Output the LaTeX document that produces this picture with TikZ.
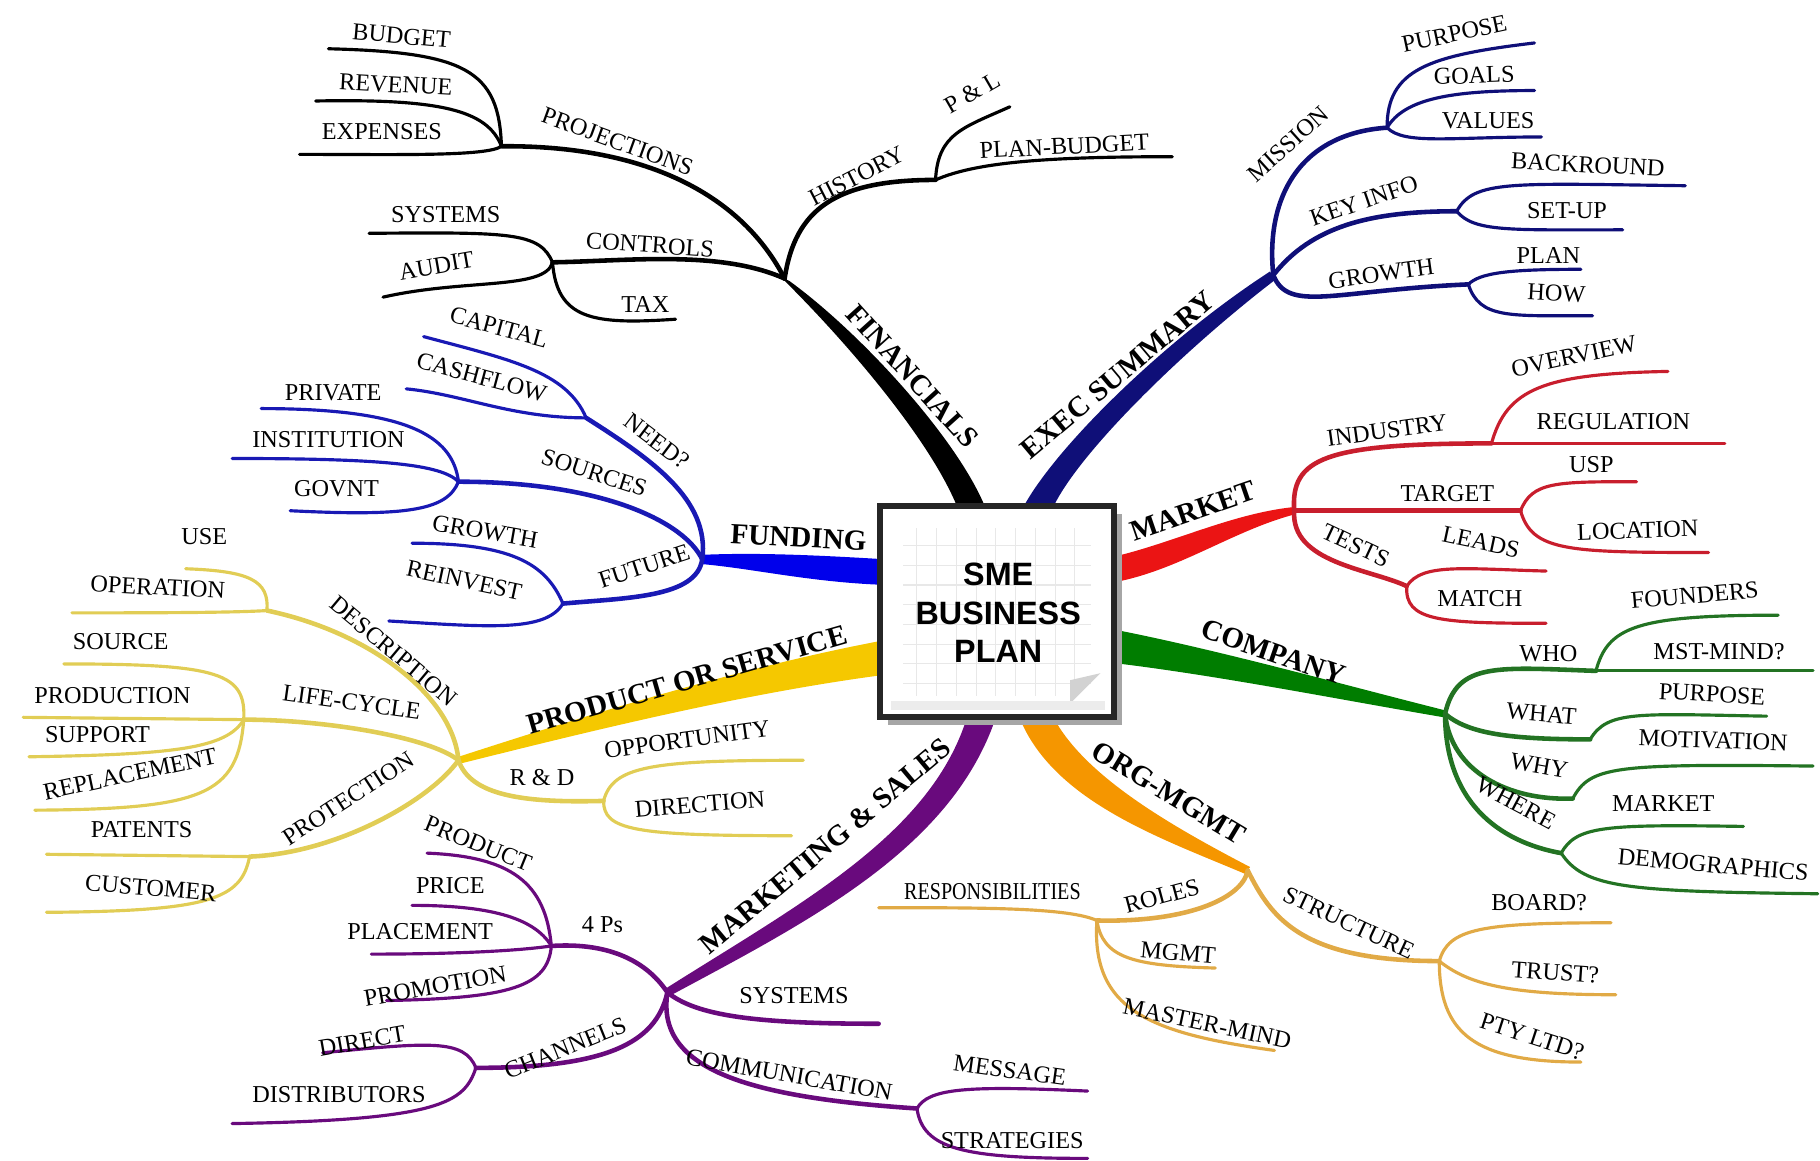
\documentclass[tikz,border=0pt]{standalone}
\usepackage{fontspec}
\setmainfont{Liberation Serif}
\setsansfont{Liberation Sans}

\definecolor{finc}{RGB}{0,0,0}
\definecolor{execc}{RGB}{15,15,120}
\definecolor{mktc}{RGB}{235,20,20}
\definecolor{mktb}{RGB}{200,30,45}
\definecolor{compc}{RGB}{0,125,0}
\definecolor{compb}{RGB}{35,115,35}
\definecolor{orgc}{RGB}{245,150,0}
\definecolor{orgb}{RGB}{225,170,70}
\definecolor{mksc}{RGB}{105,10,125}
\definecolor{prodc}{RGB}{245,200,0}
\definecolor{prodb}{RGB}{225,205,85}
\definecolor{fundc}{RGB}{0,0,235}
\definecolor{fundb}{RGB}{25,25,180}

\tikzset{
  lbl/.style={font=\fontsize{6.9}{7.5}\selectfont, inner sep=0pt, text=black},
  mlbl/.style={font=\bfseries\fontsize{8.3}{9}\selectfont, inner sep=0pt, text=black},
  br/.style={line width=1.3pt, line cap=round},
  leaf/.style={line width=0.9pt, line cap=round}
}

\begin{document}
\begin{tikzpicture}[x=0.011607cm, y=-0.011607cm]
\useasboundingbox (0,0) rectangle (1568,1000);

% ---------------- FINANCIALS
\begin{scope}[finc]
\coordinate (fin) at (676,240);
\coordinate (hist) at (806,155);
\coordinate (pl) at (870,92);
\coordinate (planb) at (1010,135);
\coordinate (ctrl) at (476,226);
\coordinate (sys) at (318,201);
\coordinate (audit) at (330,256);
\coordinate (tax) at (582,275);
\coordinate (proj) at (432,126);
\coordinate (budg) at (283,42);
\coordinate (rev) at (272,87);
\coordinate (expn) at (258,133);

\fill (826,440) .. controls (803,380) and (728,293) .. (672,238) -- (680,242) .. controls (742,287) and (827,380) .. (850,440) -- cycle;
\draw[br] (fin) .. controls (685,180) and (720,155) .. (hist);
\draw[leaf] (hist) .. controls (808,115) and (830,110) .. (pl);
\draw[leaf] (hist) .. controls (840,140) and (900,135) .. (planb);
\draw[br] (fin) .. controls (620,215) and (540,225) .. (ctrl);
\draw[leaf] (ctrl) .. controls (465,200) and (440,200) .. (sys);
\draw[leaf] (ctrl) .. controls (470,250) and (400,240) .. (audit);
\draw[leaf] (ctrl) .. controls (480,275) and (510,280) .. (tax);
\draw[br] (fin) .. controls (640,170) and (560,125) .. (proj);
\draw[leaf] (proj) .. controls (430,60) and (400,45) .. (budg);
\draw[leaf] (proj) .. controls (420,95) and (380,85) .. (rev);
\draw[leaf] (proj) .. controls (420,135) and (340,133) .. (expn);
\end{scope}

\node[mlbl, rotate=-48] (t-fin) at (786,324) {FINANCIALS};
\node[lbl, rotate=27] (t-hist) at (738,152) {HISTORY};
\node[lbl, rotate=30] (t-pl) at (838,80) {P \& L};
\node[lbl, rotate=3] (t-planb) at (917,126) {PLAN-BUDGET};
\node[lbl, rotate=-4] (t-ctrl) at (560,211) {CONTROLS};
\node[lbl] (t-sys) at (384,185) {SYSTEMS};
\node[lbl, rotate=10] (t-audit) at (376,229) {AUDIT};
\node[lbl] (t-tax) at (556,262) {TAX};
\node[lbl, rotate=-20] (t-proj) at (532,122) {PROJECTIONS};
\node[lbl, rotate=-5] (t-budg) at (346,31) {BUDGET};
\node[lbl, rotate=-3] (t-rev) at (341,73) {REVENUE};
\node[lbl] (t-expn) at (329,113) {EXPENSES};

% ---------------- EXEC SUMMARY
\begin{scope}[execc]
\coordinate (exs) at (1097,237);
\coordinate (miss) at (1195,110);
\coordinate (purp) at (1322,37);
\coordinate (goals) at (1322,78);
\coordinate (vals) at (1328,118);
\coordinate (key) at (1255,182);
\coordinate (back) at (1452,160);
\coordinate (setup) at (1398,198);
\coordinate (grow) at (1265,245);
\coordinate (plan) at (1362,232);
\coordinate (how) at (1372,272);

\fill (880,440) .. controls (905,390) and (1000,295) .. (1094,234) -- (1100,240) .. controls (1015,305) and (925,395) .. (906,440) -- cycle;
\draw[br] (exs) .. controls (1090,170) and (1120,115) .. (miss);
\draw[leaf] (miss) .. controls (1195,60) and (1230,48) .. (purp);
\draw[leaf] (miss) .. controls (1210,85) and (1250,78) .. (goals);
\draw[leaf] (miss) .. controls (1210,125) and (1250,118) .. (vals);
\draw[br] (exs) .. controls (1130,195) and (1180,182) .. (key);
\draw[leaf] (key) .. controls (1270,155) and (1300,158) .. (back);
\draw[leaf] (key) .. controls (1270,200) and (1300,198) .. (setup);
\draw[br] (exs) .. controls (1110,270) and (1150,250) .. (grow);
\draw[leaf] (grow) .. controls (1275,235) and (1300,232) .. (plan);
\draw[leaf] (grow) .. controls (1275,275) and (1300,272) .. (how);
\end{scope}

\node[mlbl, rotate=40] (t-exs) at (963,323) {EXEC SUMMARY};
\node[lbl, rotate=42] (t-miss) at (1110,124) {MISSION};
\node[lbl, rotate=12] (t-purp) at (1253,29) {PURPOSE};
\node[lbl, rotate=2] (t-goals) at (1270,65) {GOALS};
\node[lbl] (t-vals) at (1282,104) {VALUES};
\node[lbl, rotate=19] (t-key) at (1175,173) {KEY INFO};
\node[lbl, rotate=-3] (t-back) at (1368,142) {BACKROUND};
\node[lbl] (t-setup) at (1350,181) {SET-UP};
\node[lbl, rotate=8] (t-grow) at (1190,236) {GROWTH};
\node[lbl] (t-plan) at (1334,220) {PLAN};
\node[lbl, rotate=-3] (t-how) at (1341,253) {HOW};

% ---------------- MARKET
\fill[mktc] (958,480) .. controls (1010,468) and (1060,443) .. (1113,437) -- (1116,443) .. controls (1062,457) and (1015,492) .. (958,502) -- cycle;
\begin{scope}[mktb]
\coordinate (mkt) at (1115,440);
\coordinate (ind) at (1285,382);
\coordinate (over) at (1437,320);
\coordinate (reg) at (1486,382);
\coordinate (targ) at (1310,440);
\coordinate (usp) at (1410,415);
\coordinate (loc) at (1472,476);
\coordinate (tests) at (1212,505);
\coordinate (leads) at (1332,492);
\coordinate (match) at (1332,537);

\draw[br] (mkt) .. controls (1112,395) and (1140,382) .. (ind);
\draw[leaf] (ind) .. controls (1298,335) and (1330,322) .. (over);
\draw[leaf] (ind) -- (reg);
\draw[br] (mkt) -- (targ);
\draw[leaf] (targ) .. controls (1320,415) and (1340,415) .. (usp);
\draw[leaf] (targ) .. controls (1320,475) and (1350,476) .. (loc);
\draw[br] (mkt) .. controls (1112,485) and (1180,490) .. (tests);
\draw[leaf] (tests) .. controls (1225,485) and (1260,490) .. (leads);
\draw[leaf] (tests) .. controls (1210,535) and (1240,537) .. (match);
\end{scope}

\node[mlbl, rotate=19] (t-mkt) at (1028,440) {MARKET};
\node[lbl, rotate=8] (t-ind) at (1195,371) {INDUSTRY};
\node[lbl, rotate=12] (t-over) at (1356,307) {OVERVIEW};
\node[lbl] (t-reg) at (1390,363) {REGULATION};
\node[lbl] (t-targ) at (1247,425) {TARGET};
\node[lbl] (t-usp) at (1371,400) {USP};
\node[lbl, rotate=2] (t-loc) at (1411,457) {LOCATION};
\node[lbl, rotate=-25] (t-tests) at (1168,470) {TESTS};
\node[lbl, rotate=-12] (t-leads) at (1276,467) {LEADS};
\node[lbl] (t-match) at (1275,516) {MATCH};

% ---------------- COMPANY
\fill[compc] (958,542) .. controls (1050,560) and (1150,588) .. (1245,612) -- (1244,618) .. controls (1150,602) and (1050,582) .. (958,571) -- cycle;
\begin{scope}[compb]
\coordinate (comp) at (1245,615);
\coordinate (who) at (1375,578);
\coordinate (found) at (1532,530);
\coordinate (mst) at (1562,578);
\coordinate (what) at (1370,637);
\coordinate (purp2) at (1522,617);
\coordinate (why) at (1355,688);
\coordinate (motiv) at (1562,660);
\coordinate (where) at (1345,735);
\coordinate (mark2) at (1502,712);
\coordinate (demo) at (1566,770);

\draw[br] (comp) .. controls (1255,570) and (1290,575) .. (who);
\draw[leaf] (who) .. controls (1385,540) and (1410,530) .. (found);
\draw[leaf] (who) -- (mst);
\draw[br] (comp) .. controls (1265,632) and (1300,637) .. (what);
\draw[leaf] (what) .. controls (1385,612) and (1410,615) .. (purp2);
\draw[br] (comp) .. controls (1250,665) and (1300,690) .. (why);
\draw[leaf] (why) .. controls (1370,660) and (1390,658) .. (motiv);
\draw[br] (comp) .. controls (1245,690) and (1290,725) .. (where);
\draw[leaf] (where) .. controls (1358,712) and (1380,710) .. (mark2);
\draw[leaf] (where) .. controls (1365,765) and (1400,768) .. (demo);
\end{scope}

\node[mlbl, rotate=-19] (t-comp) at (1097,562) {COMPANY};
\node[lbl] (t-who) at (1334,563) {WHO};
\node[lbl, rotate=5] (t-found) at (1460,513) {FOUNDERS};
\node[lbl] (t-mst) at (1481,561) {MST-MIND?};
\node[lbl, rotate=-5] (t-what) at (1328,615) {WHAT};
\node[lbl, rotate=-3] (t-purp2) at (1475,598) {PURPOSE};
\node[lbl, rotate=-10] (t-why) at (1326,660) {WHY};
\node[lbl, rotate=-2] (t-motiv) at (1476,638) {MOTIVATION};
\node[lbl, rotate=-28] (t-where) at (1306,692) {WHERE};
\node[lbl] (t-mark2) at (1433,692) {MARKET};
\node[lbl, rotate=-5] (t-demo) at (1476,745) {DEMOGRAPHICS};

% ---------------- ORG-MGMT
\fill[orgc] (877,615) .. controls (905,690) and (1000,722) .. (1073,753) -- (1077,747) .. controls (1010,712) and (932,668) .. (906,615) -- cycle;
\begin{scope}[orgb]
\coordinate (org) at (1075,750);
\coordinate (roles) at (945,793);
\coordinate (resp) at (757,782);
\coordinate (mgmt) at (1047,834);
\coordinate (mastm) at (1098,905);
\coordinate (struc) at (1240,828);
\coordinate (board) at (1388,795);
\coordinate (trust) at (1392,857);
\coordinate (pty) at (1362,915);

\draw[br] (org) .. controls (1070,775) and (1020,795) .. (roles);
\draw[leaf] (roles) .. controls (920,782) and (850,782) .. (resp);
\draw[leaf] (roles) .. controls (950,825) and (975,832) .. (mgmt);
\draw[leaf] (roles) .. controls (940,870) and (990,890) .. (mastm);
\draw[br] (org) .. controls (1095,790) and (1120,828) .. (struc);
\draw[leaf] (struc) .. controls (1248,800) and (1275,795) .. (board);
\draw[leaf] (struc) .. controls (1265,848) and (1300,857) .. (trust);
\draw[leaf] (struc) .. controls (1240,890) and (1270,915) .. (pty);
\end{scope}

\node[mlbl, rotate=-31] (t-org) at (1007,683) {ORG-MGMT};
\node[lbl, rotate=15] (t-roles) at (1001,772) {ROLES};
\node[lbl, xscale=.83] (t-resp) at (855,768) {RESPONSIBILITIES};
\node[lbl, rotate=-5] (t-mgmt) at (1015,821) {MGMT};
\node[lbl, rotate=-12] (t-mastm) at (1040,882) {MASTER-MIND};
\node[lbl, rotate=-25] (t-struc) at (1162,795) {STRUCTURE};
\node[lbl] (t-board) at (1326,778) {BOARD?};
\node[lbl, rotate=-4] (t-trust) at (1340,838) {TRUST?};
\node[lbl, rotate=-18] (t-pty) at (1320,893) {PTY LTD?};

% ---------------- MARKETING & SALES
\begin{scope}[mksc]
\coordinate (mks) at (575,855);
\coordinate (fourp) at (475,815);
\coordinate (prodt) at (368,735);
\coordinate (price) at (355,780);
\coordinate (place) at (320,822);
\coordinate (promo) at (333,862);
\coordinate (msys) at (757,882);
\coordinate (chan) at (410,920);
\coordinate (direct) at (278,907);
\coordinate (distr) at (200,968);
\coordinate (comm) at (790,955);
\coordinate (mess) at (937,940);
\coordinate (strat) at (937,998);

\fill (859,615) .. controls (822,730) and (700,792) .. (577,858) -- (573,852) .. controls (690,778) and (804,718) .. (834,615) -- cycle;
\draw[br] (mks) .. controls (555,825) and (520,812) .. (fourp);
\draw[leaf] (fourp) .. controls (470,760) and (440,738) .. (prodt);
\draw[leaf] (fourp) .. controls (460,790) and (420,780) .. (price);
\draw[leaf] (fourp) .. controls (440,820) and (380,822) .. (place);
\draw[leaf] (fourp) .. controls (472,850) and (440,860) .. (promo);
\draw[br] (mks) .. controls (600,875) and (650,882) .. (msys);
\draw[br] (mks) .. controls (565,900) and (520,920) .. (chan);
\draw[leaf] (chan) .. controls (400,895) and (370,898) .. (direct);
\draw[leaf] (chan) .. controls (400,950) and (380,965) .. (distr);
\draw[br] (mks) .. controls (565,920) and (640,945) .. (comm);
\draw[leaf] (comm) .. controls (800,938) and (830,935) .. (mess);
\draw[leaf] (comm) .. controls (795,990) and (830,998) .. (strat);
\end{scope}

\node[mlbl, rotate=40] (t-mks) at (711,729) {MARKETING \& SALES};
\node[lbl] (t-fourp) at (519,797) {4 Ps};
\node[lbl, rotate=-22] (t-prodt) at (412,727) {PRODUCT};
\node[lbl] (t-price) at (388,763) {PRICE};
\node[lbl] (t-place) at (362,803) {PLACEMENT};
\node[lbl, rotate=10] (t-promo) at (375,850) {PROMOTION};
\node[lbl] (t-msys) at (684,858) {SYSTEMS};
\node[lbl, rotate=22] (t-chan) at (487,903) {CHANNELS};
\node[lbl, rotate=10] (t-direct) at (312,897) {DIRECT};
\node[lbl] (t-distr) at (292,943) {DISTRIBUTORS};
\node[lbl, rotate=-10] (t-comm) at (680,926) {COMMUNICATION};
\node[lbl, rotate=-8] (t-mess) at (870,922) {MESSAGE};
\node[lbl] (t-strat) at (872,983) {STRATEGIES};

% ---------------- PRODUCT OR SERVICE
\fill[prodc] (765,551) .. controls (640,574) and (500,618) .. (395,652) -- (396,658) .. controls (500,632) and (640,597) .. (765,581) -- cycle;
\begin{scope}[prodb]
\coordinate (prod) at (395,655);
\coordinate (desc) at (230,526);
\coordinate (use) at (160,490);
\coordinate (oper) at (62,528);
\coordinate (life) at (210,620);
\coordinate (src) at (55,572);
\coordinate (prodn) at (20,618);
\coordinate (supp) at (25,652);
\coordinate (repl) at (30,698);
\coordinate (prot) at (215,738);
\coordinate (pat) at (40,736);
\coordinate (cust) at (40,786);
\coordinate (rnd) at (520,690);
\coordinate (opp) at (692,655);
\coordinate (dir) at (682,720);

\draw[br] (prod) .. controls (390,600) and (320,545) .. (desc);
\draw[leaf] (desc) .. controls (232,500) and (215,492) .. (use);
\draw[leaf] (desc) .. controls (200,528) and (120,528) .. (oper);
\draw[br] (prod) .. controls (370,635) and (280,620) .. (life);
\draw[leaf] (life) .. controls (212,580) and (190,572) .. (src);
\draw[leaf] (life) -- (prodn);
\draw[leaf] (life) .. controls (195,645) and (150,650) .. (supp);
\draw[leaf] (life) .. controls (205,685) and (175,697) .. (repl);
\draw[br] (prod) .. controls (370,690) and (290,735) .. (prot);
\draw[leaf] (prot) -- (pat);
\draw[leaf] (prot) .. controls (208,775) and (180,785) .. (cust);
\draw[br] (prod) .. controls (405,685) and (450,692) .. (rnd);
\draw[leaf] (rnd) .. controls (528,660) and (560,655) .. (opp);
\draw[leaf] (rnd) .. controls (520,715) and (545,720) .. (dir);
\end{scope}

\node[mlbl, rotate=16] (t-prod) at (592,586) {PRODUCT OR SERVICE};
\node[lbl, rotate=-40] (t-desc) at (339,561) {DESCRIPTION};
\node[lbl] (t-use) at (176,462) {USE};
\node[lbl, rotate=-3] (t-oper) at (136,506) {OPERATION};
\node[lbl, rotate=-8] (t-life) at (303,605) {LIFE-CYCLE};
\node[lbl] (t-src) at (104,553) {SOURCE};
\node[lbl] (t-prodn) at (97,599) {PRODUCTION};
\node[lbl] (t-supp) at (84,633) {SUPPORT};
\node[lbl, rotate=12] (t-repl) at (112,667) {REPLACEMENT};
\node[lbl, rotate=33] (t-prot) at (300,688) {PROTECTION};
\node[lbl] (t-pat) at (122,715) {PATENTS};
\node[lbl, rotate=-5] (t-cust) at (130,765) {CUSTOMER};
\node[lbl] (t-rnd) at (467,670) {R \& D};
\node[lbl, rotate=8] (t-opp) at (592,637) {OPPORTUNITY};
\node[lbl, rotate=5] (t-dir) at (603,693) {DIRECTION};

% ---------------- FUNDING
\fill[fundc] (765,482) .. controls (700,478) and (650,476) .. (605,478) -- (605,486) .. controls (650,490) and (700,502) .. (765,504) -- cycle;
\begin{scope}[fundb]
\coordinate (fund) at (605,482);
\coordinate (need) at (505,360);
\coordinate (capt) at (365,290);
\coordinate (cash) at (350,335);
\coordinate (srcs) at (395,415);
\coordinate (priv) at (225,352);
\coordinate (inst) at (200,395);
\coordinate (govt) at (250,440);
\coordinate (fut) at (485,520);
\coordinate (grow2) at (355,468);
\coordinate (reinv) at (335,535);

\draw[br] (fund) .. controls (612,430) and (560,395) .. (need);
\draw[leaf] (need) .. controls (488,320) and (440,310) .. (capt);
\draw[leaf] (need) .. controls (440,360) and (400,340) .. (cash);
\draw[br] (fund) .. controls (590,450) and (520,415) .. (srcs);
\draw[leaf] (srcs) .. controls (390,375) and (350,352) .. (priv);
\draw[leaf] (srcs) .. controls (380,400) and (330,395) .. (inst);
\draw[leaf] (srcs) .. controls (385,440) and (350,445) .. (govt);
\draw[br] (fund) .. controls (600,515) and (540,515) .. (fut);
\draw[leaf] (fut) .. controls (470,485) and (440,468) .. (grow2);
\draw[leaf] (fut) .. controls (470,545) and (420,540) .. (reinv);
\end{scope}

\node[mlbl, rotate=-3] (t-fund) at (688,463) {FUNDING};
\node[lbl, rotate=-37] (t-need) at (566,380) {NEED?};
\node[lbl, rotate=-15] (t-capt) at (430,282) {CAPITAL};
\node[lbl, rotate=-15] (t-cash) at (415,325) {CASHFLOW};
\node[lbl, rotate=-18] (t-srcs) at (512,407) {SOURCES};
\node[lbl] (t-priv) at (287,338) {PRIVATE};
\node[lbl] (t-inst) at (283,379) {INSTITUTION};
\node[lbl] (t-govt) at (290,421) {GOVNT};
\node[lbl, rotate=18] (t-fut) at (555,488) {FUTURE};
\node[lbl, rotate=-10] (t-grow2) at (418,458) {GROWTH};
\node[lbl, rotate=-12] (t-reinv) at (400,500) {REINVEST};

% ---------------- central box
\fill[gray!70] (765,443) rectangle (967,625);
\draw[gray!30!black, line width=1.8pt, fill=white] (758,436) rectangle (960,618);
\foreach \gx in {790,807,...,935} \draw[gray!18, line width=0.3pt] (\gx,455) -- (\gx,600);
\foreach \gy in {470,487,...,600} \draw[gray!18, line width=0.3pt] (778,\gy) -- (940,\gy);
\fill[gray!35] (922,606) -- (948,580) -- (922,586) -- cycle;
\fill[gray!15] (768,604) rectangle (952,612);
\node[font=\sffamily\bfseries\fontsize{9.2}{11}\selectfont, align=center, inner sep=0pt] (core) at (860,528) {SME\\BUSINESS\\PLAN};

\end{tikzpicture}
\end{document}
